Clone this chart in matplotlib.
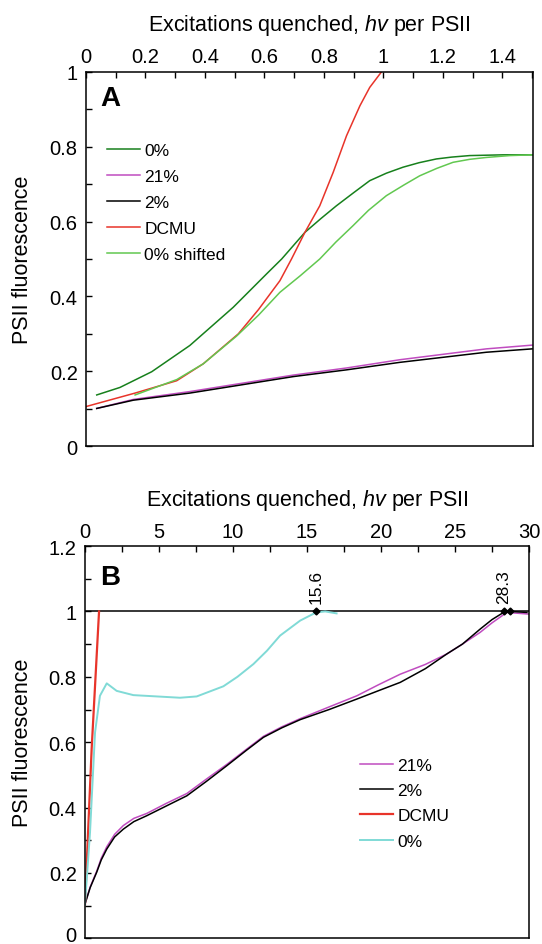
import matplotlib.pyplot as plt
import matplotlib.transforms as mtransforms
from matplotlib.ticker import MultipleLocator

plt.rcParams['font.family'] = ['Liberation Sans', 'DejaVu Sans']
plt.rcParams['mathtext.fontset'] = 'custom'
plt.rcParams['mathtext.it'] = 'Liberation Sans:italic'
plt.rcParams['mathtext.rm'] = 'Liberation Sans'

# ---- panel A: excitations quenched (hv per PSII) vs PSII fluorescence
a_green_x = [0.036, 0.114, 0.221, 0.349, 0.495, 0.607, 0.658, 0.736, 0.79, 0.842, 0.9, 0.954, 1.01,
             1.066, 1.12, 1.178, 1.23, 1.29, 1.402, 1.5]
a_green_y = [0.137, 0.157, 0.199, 0.269, 0.371, 0.46, 0.5, 0.571, 0.608, 0.642, 0.677, 0.709, 0.729,
             0.745, 0.757, 0.767, 0.772, 0.776, 0.778, 0.778]

a_21_x = [0.036, 0.159, 0.349, 0.697, 0.876, 1.055, 1.346, 1.5]
a_21_y = [0.101, 0.125, 0.146, 0.19, 0.209, 0.231, 0.26, 0.27]

a_2_x = [0.036, 0.159, 0.349, 0.697, 0.876, 1.055, 1.346, 1.5]
a_2_y = [0.101, 0.123, 0.142, 0.186, 0.204, 0.224, 0.251, 0.26]

a_dcmu_x = [0.0, 0.165, 0.305, 0.394, 0.512, 0.58, 0.652, 0.691, 0.736, 0.786, 0.831, 0.876, 0.921, 0.954, 0.994]
a_dcmu_y = [0.106, 0.142, 0.175, 0.22, 0.3, 0.365, 0.442, 0.5, 0.571, 0.642, 0.731, 0.829, 0.909, 0.958, 1.0]

a_shift_x = [0.165, 0.305, 0.394, 0.506, 0.58, 0.652, 0.72, 0.786, 0.84, 0.898, 0.95, 1.01, 1.07, 1.122,
             1.18, 1.234, 1.29, 1.346, 1.425, 1.5]
a_shift_y = [0.137, 0.178, 0.22, 0.294, 0.35, 0.411, 0.455, 0.5, 0.545, 0.589, 0.63, 0.669, 0.698, 0.722,
             0.742, 0.758, 0.766, 0.771, 0.776, 0.778]

# ---- panel B
b_21_x = [0.0, 0.35, 0.79, 1.1, 1.47, 2.0, 2.59, 3.3, 4.17, 5.5, 6.88, 8.2, 9.58, 10.9, 12.06, 13.3, 14.54,
          16.5, 18.37, 19.8, 21.3, 23.0, 24.45, 25.5, 26.7, 27.5, 28.5, 29.95]
b_21_y = [0.105, 0.157, 0.205, 0.245, 0.28, 0.318, 0.345, 0.367, 0.382, 0.413, 0.443, 0.487, 0.532, 0.578,
          0.618, 0.647, 0.672, 0.708, 0.742, 0.775, 0.808, 0.838, 0.87, 0.9, 0.936, 0.965, 0.997, 0.992]

b_2_x = [0.0, 0.35, 0.79, 1.1, 1.47, 2.0, 2.59, 3.3, 4.17, 5.5, 6.88, 8.2, 9.58, 10.9, 12.06, 13.3, 14.54,
         16.5, 18.37, 19.8, 21.3, 23.0, 24.45, 25.5, 26.7, 27.5, 28.28, 28.7, 29.86]
b_2_y = [0.105, 0.155, 0.202, 0.24, 0.273, 0.31, 0.334, 0.357, 0.375, 0.405, 0.436, 0.48, 0.528, 0.575,
         0.615, 0.644, 0.669, 0.70, 0.732, 0.757, 0.783, 0.825, 0.87, 0.9, 0.946, 0.975, 0.997, 1.0, 0.997]

b_dcmu_x = [0.0, 0.45, 0.95]
b_dcmu_y = [0.105, 0.579, 1.0]

b_0_x = [0.0, 0.34, 0.68, 1.01, 1.47, 2.14, 3.27, 6.42, 7.55, 9.35, 10.3, 11.38, 12.3, 13.18, 14.54,
         15.62, 16.23, 17.0]
b_0_y = [0.105, 0.324, 0.63, 0.742, 0.78, 0.757, 0.744, 0.736, 0.74, 0.771, 0.8, 0.839, 0.88, 0.926,
         0.972, 0.997, 1.0, 0.994]

b_marks_x = [15.6, 28.3, 28.7]
b_mark_labels = ['15.6', '28.3']

c_green = '#17801c'
c_light = '#62c850'
c_mag = '#c04cc0'
c_red = '#e8342a'
c_cyan = '#80dad6'

fs_tick = 14.5
fs_lab = 15.5
fs_leg = 12.5
xlabel = r'Excitations quenched, $\mathit{hv}$ per PSII'

fig = plt.figure(figsize=(5.42, 9.45), dpi=100)
axA = fig.add_axes([0.1587, 0.5267, 0.8247, 0.3964])
axB = fig.add_axes([0.1568, 0.006, 0.8192, 0.4151])

lw = 1.1
axA.plot(a_green_x, a_green_y, color=c_green, lw=lw, label='0%')
axA.plot(a_21_x, a_21_y, color=c_mag, lw=lw, label='21%')
axA.plot(a_2_x, a_2_y, color='black', lw=lw, label='2%')
axA.plot(a_dcmu_x, a_dcmu_y, color=c_red, lw=lw, label='DCMU')
axA.plot(a_shift_x, a_shift_y, color=c_light, lw=lw, label='0% shifted')
axA.set_xlim(0, 1.503)
axA.set_ylim(0, 1)
axA.xaxis.set_major_locator(MultipleLocator(0.2))
axA.xaxis.set_minor_locator(MultipleLocator(0.1))
axA.yaxis.set_major_locator(MultipleLocator(0.2))
axA.yaxis.set_minor_locator(MultipleLocator(0.1))
axA.legend(loc='upper left', bbox_to_anchor=(0.047, 0.81), frameon=False, fontsize=fs_leg,
           borderpad=0, borderaxespad=0, handlelength=1.9, handletextpad=0.25, labelspacing=0.62)
axA.text(0.054, 0.93, 'A', transform=axA.transAxes, fontsize=20, fontweight='bold', ha='center', va='center')

axB.axhline(1.0, color='black', lw=1.1)
axB.plot(b_21_x, b_21_y, color=c_mag, lw=lw, label='21%')
axB.plot(b_2_x, b_2_y, color='black', lw=lw, label='2%')
axB.plot(b_dcmu_x, b_dcmu_y, color=c_red, lw=1.6, label='DCMU')
axB.plot(b_0_x, b_0_y, color=c_cyan, lw=1.4, label='0%')
axB.plot(b_marks_x, [1.0] * len(b_marks_x), 'D', color='black', ms=3.5, ls='none')
for xv, t in zip(b_marks_x[:2], b_mark_labels):
    axB.text(xv, 1.025, t, rotation=90, ha='center', va='bottom', fontsize=12.5)
axB.set_xlim(0, 30)
axB.set_ylim(0, 1.2)
axB.xaxis.set_major_locator(MultipleLocator(5))
axB.xaxis.set_minor_locator(MultipleLocator(2.5))
axB.yaxis.set_major_locator(MultipleLocator(0.2))
axB.yaxis.set_minor_locator(MultipleLocator(0.1))
axB.legend(loc='upper left', bbox_to_anchor=(0.619, 0.46), frameon=False, fontsize=fs_leg,
           borderpad=0, borderaxespad=0, handlelength=1.9, handletextpad=0.25, labelspacing=0.58)
axB.text(0.056, 0.921, 'B', transform=axB.transAxes, fontsize=20, fontweight='bold', ha='center', va='center')

for ax, lx, ly in [(axA, -0.118, 1.111), (axB, -0.117, 1.105)]:
    ax.xaxis.tick_top()
    ax.tick_params(axis='both', which='both', direction='in', length=4.5, width=1,
                   labelsize=fs_tick, top=True, bottom=False, left=True, right=False)
    ax.tick_params(axis='x', pad=4)
    ax.tick_params(axis='y', pad=6)
    ax.yaxis.set_major_formatter(plt.FuncFormatter(lambda v, p: ('%g' % round(v, 2))))
    ax.xaxis.set_major_formatter(plt.FuncFormatter(lambda v, p: ('%g' % round(v, 2))))
    for s in ax.spines.values():
        s.set_linewidth(1.1)
    ax.set_xlabel(xlabel, fontsize=fs_lab)
    ax.xaxis.set_label_position('top')
    ax.xaxis.set_label_coords(0.5, ly)
    ax.set_ylabel('PSII fluorescence', fontsize=fs_lab)
    ax.yaxis.set_label_coords(lx, 0.5)

# keep the bottom "0" of panel B inside the picture
fig.canvas.draw()
shift = mtransforms.ScaledTranslation(0, 5 / 100, fig.dpi_scale_trans)
for lab in axB.get_yticklabels():
    if lab.get_text() == '0':
        lab.set_transform(lab.get_transform() + shift)

fig.savefig('out.png', dpi=100)
